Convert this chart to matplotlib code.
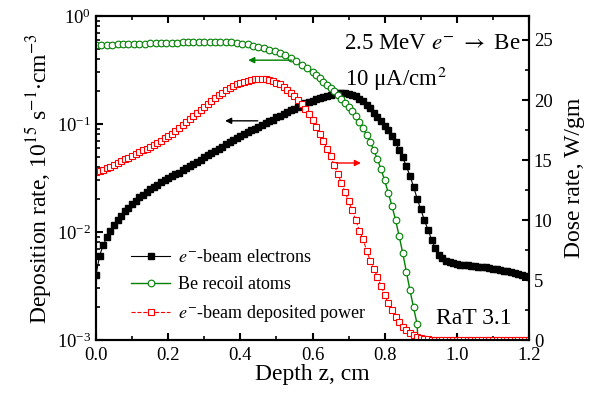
import numpy as np
import matplotlib
matplotlib.use('Agg')
import matplotlib.pyplot as plt
from matplotlib.ticker import LogLocator, MultipleLocator, NullFormatter

# 深度 (cm)
depth_electrons = np.round(np.arange(0, 1.2001, 0.01), 3)
depth_power = np.round(np.arange(0, 1.2001, 0.01), 3)
depth_recoil = np.concatenate([np.round(np.arange(0, 0.59, 0.015), 3),
                               np.round(np.arange(0.60, 0.8901, 0.01), 3), [0.895]])

# e- 束电子沉积率 (10^15 s^-1 cm^-3)
rate_electrons = [
    0.00398, 0.00603, 0.00759, 0.00891, 0.0102, 0.0115, 0.0129, 0.0141, 0.0155, 0.0168,
    0.0182, 0.0195, 0.0209, 0.0221, 0.0234, 0.0248, 0.0263, 0.0275, 0.0288, 0.0302,
    0.0316, 0.0331, 0.0343, 0.0355, 0.0372, 0.0389, 0.0407, 0.0427, 0.0447, 0.0468,
    0.0490, 0.0513, 0.0537, 0.0562, 0.0589, 0.0617, 0.0646, 0.0676, 0.0708, 0.0741,
    0.0776, 0.0807, 0.0839, 0.0873, 0.0908, 0.0944, 0.0982, 0.102, 0.106, 0.110,
    0.115, 0.119, 0.124, 0.129, 0.134, 0.139, 0.145, 0.150, 0.155, 0.160,
    0.165, 0.170, 0.175, 0.179, 0.183, 0.187, 0.191, 0.193, 0.194, 0.193,
    0.191, 0.186, 0.180, 0.172, 0.162, 0.151, 0.140, 0.127, 0.116, 0.106,
    0.0966, 0.0871, 0.0776, 0.0676, 0.0575, 0.0490, 0.0407, 0.0331, 0.0263, 0.0204,
    0.0162, 0.0129, 0.0105, 0.00851, 0.00708, 0.00617, 0.00569, 0.00543, 0.00525, 0.00513,
    0.00501, 0.00495, 0.00490, 0.00490, 0.00484, 0.00484, 0.00479, 0.00479, 0.00473, 0.00468,
    0.00457, 0.00452, 0.00447, 0.00437, 0.00432, 0.00427, 0.00417, 0.00407, 0.00398, 0.00389,
    0.00380,
]

# Be 反冲原子
rate_recoil = [
    0.540, 0.541, 0.542, 0.544, 0.546, 0.548, 0.550, 0.552, 0.554, 0.556,
    0.558, 0.560, 0.562, 0.564, 0.566, 0.568, 0.570, 0.572, 0.573, 0.574,
    0.575, 0.576, 0.576, 0.575, 0.573, 0.569, 0.563, 0.555, 0.545, 0.533,
    0.519, 0.503, 0.486, 0.470, 0.455, 0.432, 0.408, 0.383, 0.355, 0.327,
    0.300, 0.282, 0.264, 0.247, 0.231, 0.215, 0.200, 0.186, 0.172, 0.158,
    0.144, 0.131, 0.118, 0.105, 0.092, 0.079, 0.068, 0.057, 0.047, 0.038,
    0.030, 0.023, 0.0175, 0.013, 0.0092, 0.0064, 0.0043, 0.0029, 0.0020, 0.0014,
    0.0006,
]

# e- 束沉积功率 (W/gm)
dose_power = [
    14.0, 14.1, 14.2, 14.3, 14.45, 14.6, 14.75, 14.9, 15.05, 15.2,
    15.35, 15.5, 15.65, 15.8, 15.95, 16.1, 16.25, 16.4, 16.6, 16.8,
    17.0, 17.2, 17.4, 17.65, 17.9, 18.15, 18.4, 18.65, 18.9, 19.15,
    19.4, 19.65, 19.9, 20.15, 20.4, 20.6, 20.8, 21.0, 21.15, 21.3,
    21.42, 21.52, 21.6, 21.67, 21.72, 21.75, 21.76, 21.74, 21.68, 21.58,
    21.45, 21.3, 21.1, 20.85, 20.55, 20.3, 20.0, 19.65, 19.25, 18.8,
    18.3, 17.75, 17.15, 16.55, 15.95, 15.3, 14.6, 13.85, 13.1, 12.35,
    11.55, 10.8, 10.0, 9.1, 8.4, 7.45, 6.6, 5.95, 5.25, 4.5,
    3.75, 3.1, 2.5, 1.95, 1.5, 1.1, 0.8, 0.55, 0.38, 0.25,
    0.16, 0.1, 0.06, 0.04, 0.02, 0.02, 0.02, 0.02, 0.02, 0.02,
    0.02, 0.02, 0.02, 0.02, 0.02, 0.02, 0.02, 0.02, 0.02, 0.02,
    0.02, 0.02, 0.02, 0.02, 0.02, 0.02, 0.02, 0.02, 0.02, 0.02,
    0.02,
]

plt.rcParams['font.family'] = ['Liberation Serif', 'DejaVu Serif']
plt.rcParams['mathtext.fontset'] = 'stix'

GREEN = '#008000'
RED = '#ff0000'


def style_axis(ax):
    for s in ax.spines.values():
        s.set_linewidth(1.5)
    ax.tick_params(which='major', direction='in', length=5, width=1.5, labelsize=13.5)
    ax.tick_params(which='minor', direction='in', length=3, width=1.2)


fig = plt.figure(figsize=(5.94, 3.96), dpi=100)
ax = fig.add_axes([0.1616, 0.1414, 0.7290, 0.8182])
ax2 = ax.twinx()

# 左轴 (对数)
l1, = ax.plot(depth_electrons, rate_electrons, color='black', lw=0.8, marker='s',
              ms=4.6, mfc='black', mec='black', label='$e^{-}$-beam electrons')
l2, = ax.plot(depth_recoil, rate_recoil, color=GREEN, lw=1.0, marker='o', ms=4.8,
              mfc='white', mec=GREEN, mew=0.8, label='Be recoil atoms')
ax.set_yscale('log')
ax.set_ylim(1e-3, 1)
ax.set_xlim(0, 1.2)
ax.xaxis.set_major_locator(MultipleLocator(0.2))
ax.xaxis.set_minor_locator(MultipleLocator(0.1))
ax.xaxis.set_major_formatter(plt.FuncFormatter(lambda v, p: f'{v:.1f}'))
ax.yaxis.set_major_locator(LogLocator(base=10, numticks=10))
ax.yaxis.set_minor_locator(LogLocator(base=10, subs=np.arange(2, 10), numticks=20))
ax.yaxis.set_minor_formatter(NullFormatter())
style_axis(ax)
ax.tick_params(axis='x', which='both', top=True, pad=5)
ax.set_xlabel('Depth z, cm', fontsize=17, labelpad=0)
ax.set_ylabel('Deposition rate, 10$^{15}$ s$^{-1}$$\\cdot$cm$^{-3}$', fontsize=17, labelpad=2)

# 右轴 (线性)
l3, = ax2.plot(depth_power, dose_power, color=RED, lw=0.8, ls='--', marker='s', ms=4.4,
               mfc='white', mec=RED, mew=0.8, label='$e^{-}$-beam deposited power')
ax2.set_ylim(0, 27)
ax2.yaxis.set_major_locator(MultipleLocator(5))
ax2.yaxis.set_minor_locator(MultipleLocator(2.5))
style_axis(ax2)
ax2.set_ylabel('Dose rate, W/gm', fontsize=17, labelpad=8)

# 指示箭头
ax.annotate('', xy=(0.35, 0.107), xytext=(0.456, 0.107),
            arrowprops=dict(arrowstyle='-|>', color='black', lw=1.0, mutation_scale=9))
ax.annotate('', xy=(0.414, 0.39), xytext=(0.55, 0.39),
            arrowprops=dict(arrowstyle='-|>', color=GREEN, lw=1.0, mutation_scale=9))
ax2.annotate('', xy=(0.742, 14.75), xytext=(0.658, 14.75),
             arrowprops=dict(arrowstyle='-|>', color=RED, lw=1.0, mutation_scale=9))

# 文字标注
ax2.text(0.573, 0.898, '2.5 MeV $e^{-}$ $\\rightarrow$ Be', transform=ax.transAxes, fontsize=16.5)
ax2.text(0.576, 0.785, '10 μA/cm$^{2}$', transform=ax.transAxes, fontsize=16.5)
ax2.text(0.785, 0.05, 'RaT 3.1', transform=ax.transAxes, fontsize=17)

leg = ax2.legend(handles=[l1, l2, l3], loc='lower left', bbox_to_anchor=(0.055, 0.015),
                 frameon=False, fontsize=13, handlelength=2.2, handletextpad=0.4,
                 labelspacing=0.55, borderaxespad=0.2)

plt.savefig('out.png', dpi=100)
